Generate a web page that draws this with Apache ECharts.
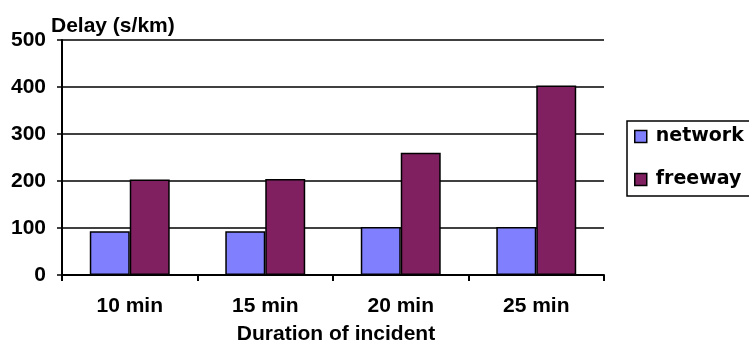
<!DOCTYPE html>
<html>
<head>
<meta charset="utf-8">
<script src="https://cdn.jsdelivr.net/npm/echarts@6/dist/echarts.min.js"></script>
<style>
  html, body { margin: 0; padding: 0; background: #fff; }
  #chart { width: 749px; height: 356px; }
</style>
</head>
<body>
<div id="chart"></div>
<script>
// Delay per km by incident duration
const durations = ['10 min', '15 min', '20 min', '25 min'];
const networkDelay = [93, 93, 102, 102];
const freewayDelay = [203, 204, 260, 403];
const yTicks = { min: 0, max: 500, interval: 100 };

const chart = echarts.init(document.getElementById('chart'), null, { renderer: 'canvas' });

const labelFont = { fontFamily: 'Liberation Sans, Arial, sans-serif', fontWeight: 'bold', color: '#000' };

chart.setOption({
  animation: false,
  backgroundColor: '#fff',
  title: {
    text: 'Delay (s/km)',
    left: 51,
    top: 16,
    padding: 0,
    textStyle: Object.assign({ fontSize: 21 }, labelFont)
  },
  legend: {
    orient: 'vertical',
    left: 627,
    top: 121,
    padding: [6, 40, 7, 7],
    itemGap: 24,
    itemWidth: 12,
    itemHeight: 12,
    icon: 'rect',
    borderColor: '#000',
    borderWidth: 1.5,
    borderRadius: 0,
    textStyle: { fontFamily: 'DejaVu Sans, sans-serif', fontWeight: 'bold', fontSize: 19, color: '#000', padding: [0, 0, 0, 4] },
    data: [
      { name: 'network', itemStyle: { borderColor: '#000', borderWidth: 1.5 } },
      { name: 'freeway', itemStyle: { borderColor: '#000', borderWidth: 1.5 } }
    ]
  },
  grid: { left: 62, right: 145, top: 40, bottom: 81, containLabel: false },
  xAxis: {
    type: 'category',
    data: durations,
    name: 'Duration of incident',
    nameLocation: 'middle',
    nameGap: 49,
    nameTextStyle: Object.assign({ fontSize: 21, padding: [0, 0, 0, 6] }, labelFont),
    axisLine: { lineStyle: { color: '#000', width: 2 } },
    axisTick: { show: true, length: 6, alignWithLabel: false, lineStyle: { color: '#000', width: 2 } },
    axisLabel: Object.assign({ fontSize: 21, margin: 21 }, labelFont)
  },
  yAxis: {
    type: 'value',
    min: yTicks.min,
    max: yTicks.max,
    interval: yTicks.interval,
    axisLine: { show: true, lineStyle: { color: '#000', width: 2 } },
    axisTick: { show: true, length: 5, lineStyle: { color: '#000', width: 1.5 } },
    splitLine: { lineStyle: { color: '#000', width: 1.5 } },
    axisLabel: Object.assign({ fontSize: 21, margin: 16 }, labelFont)
  },
  series: [
    {
      name: 'network',
      type: 'bar',
      data: networkDelay,
      barGap: '0%',
      barCategoryGap: '41%',
      itemStyle: { color: '#8080FF', borderColor: '#000', borderWidth: 1.5 }
    },
    {
      name: 'freeway',
      type: 'bar',
      data: freewayDelay,
      itemStyle: { color: '#802060', borderColor: '#000', borderWidth: 1.5 }
    }
  ]
});
</script>
</body>
</html>
